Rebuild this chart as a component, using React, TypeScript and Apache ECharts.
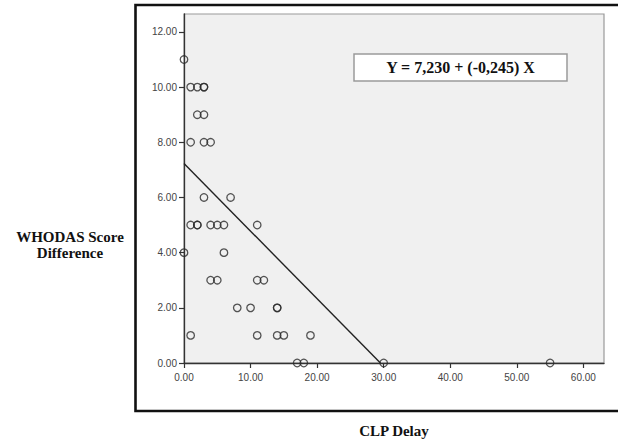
import React, { useEffect, useRef } from 'react';
import * as echarts from 'echarts';

// CLP Delay (x) and WHODAS Score Difference (y) for each respondent
const delayValues = [
  0,
  1, 2, 3, 3,
  2, 3,
  1, 3, 4,
  3, 7,
  1, 2, 2, 4, 5, 6, 11,
  0, 6,
  4, 5, 11, 12,
  8, 10, 14, 14,
  1, 11, 14, 15, 19,
  17, 18, 30, 55,
];
const scoreValues = [
  11,
  10, 10, 10, 10,
  9, 9,
  8, 8, 8,
  6, 6,
  5, 5, 5, 5, 5, 5, 5,
  4, 4,
  3, 3, 3, 3,
  2, 2, 2, 2,
  1, 1, 1, 1, 1,
  0, 0, 0, 0,
];
const xTicks = [0, 10, 20, 30, 40, 50, 60];
const yTicks = [0, 2, 4, 6, 8, 10, 12];
const intercept = 7.23;
const slope = -0.245;
const equationText = 'Y = 7,230 + (-0,245) X';
const xTitle = 'CLP Delay';
const yTitle = 'WHODAS Score\nDifference';

export default function App() {
  const ref = useRef<HTMLDivElement>(null);
  useEffect(() => {
    if (!ref.current) return;
    const chart = echarts.init(ref.current, null, { renderer: 'svg' });
    const points = delayValues.map((x, i) => [x, scoreValues[i]]);
    const lineData = [
      [0, intercept],
      [-intercept / slope, 0],
    ];
    const tickLabel = {
      fontFamily: '"Liberation Sans", Arial, sans-serif',
      fontSize: 10,
      color: '#444',
    };
    const serifBold = '"Liberation Serif", "Times New Roman", serif';
    chart.setOption({
      animation: false,
      backgroundColor: '#ffffff',
      grid: {
        left: 184,
        right: 14,
        top: 14,
        bottom: 65,
        show: true,
        backgroundColor: '#f0f0f0',
        borderColor: '#9a9a9a',
        borderWidth: 1.2,
      },
      xAxis: {
        type: 'value',
        min: 0,
        max: 63.1,
        name: xTitle,
        nameLocation: 'middle',
        nameGap: 60,
        nameTextStyle: {
          fontFamily: serifBold,
          fontWeight: 'bold',
          fontSize: 15,
          color: '#111',
        },
        axisLine: { show: true, onZero: false, lineStyle: { color: '#333', width: 1.3 } },
        axisTick: { show: true, length: 5, customValues: xTicks, lineStyle: { color: '#333', width: 1.2 } },
        axisLabel: { ...tickLabel, customValues: xTicks, margin: 9, formatter: (v: number) => v.toFixed(2) },
        splitLine: { show: false },
      },
      yAxis: {
        type: 'value',
        min: 0,
        max: 12.65,
        axisLine: { show: true, onZero: false, lineStyle: { color: '#333', width: 1.3 } },
        axisTick: { show: true, length: 5, customValues: yTicks, lineStyle: { color: '#333', width: 1.2 } },
        axisLabel: { ...tickLabel, customValues: yTicks, margin: 7, formatter: (v: number) => v.toFixed(2) },
        splitLine: { show: false },
      },
      series: [
        {
          type: 'scatter',
          data: points,
          symbol: 'circle',
          symbolSize: 7.5,
          itemStyle: { color: 'rgba(0,0,0,0)', borderColor: '#2a2a2a', borderWidth: 1.3 },
          z: 3,
        },
        {
          type: 'line',
          data: lineData,
          symbol: 'none',
          lineStyle: { color: '#222', width: 1.4 },
          z: 2,
        },
      ],
      graphic: [
        {
          type: 'rect',
          z: 100,
          shape: { x: 135.5, y: 5, width: 520, height: 406 },
          style: { fill: 'none', stroke: '#111', lineWidth: 2.6 },
        },
        {
          type: 'rect',
          z: 100,
          shape: { x: 354, y: 54, width: 213, height: 27 },
          style: { fill: '#ffffff', stroke: '#9a9a9a', lineWidth: 1.5 },
        },
        {
          type: 'text',
          z: 101,
          x: 460.5,
          y: 67.5,
          style: {
            text: equationText,
            fill: '#111',
            font: `bold 16px ${serifBold}`,
            align: 'center',
            verticalAlign: 'middle',
          },
        },
        {
          type: 'text',
          z: 101,
          x: 70,
          y: 245,
          style: {
            text: yTitle,
            fill: '#111',
            font: `bold 15px ${serifBold}`,
            lineHeight: 16,
            align: 'center',
            verticalAlign: 'middle',
          },
        },
      ],
    });
    return () => chart.dispose();
  }, []);
  return (
    <div
      ref={ref}
      style={{ position: 'fixed', left: 0, top: 0, width: 618, height: 443 }}
    />
  );
}
